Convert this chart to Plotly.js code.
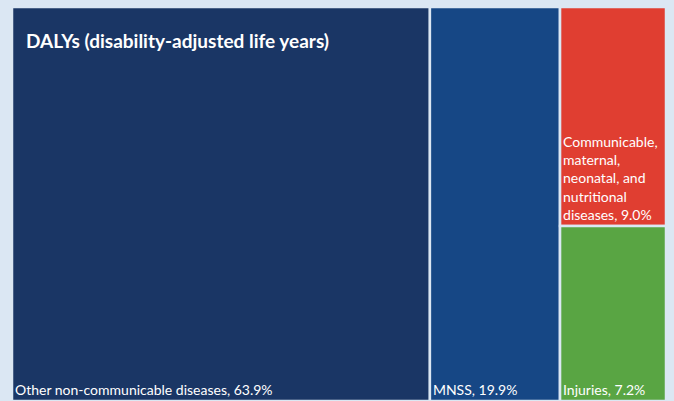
<!DOCTYPE html>
<html>
<head>
<meta charset="utf-8">
<script src="https://cdn.plot.ly/plotly-3.0.1.min.js"></script>
<style>html,body{margin:0;padding:0;background:#dbe7f3;}#chart{width:674px;height:401px;}</style>
</head>
<body>
<div id="chart"></div>
<script>
const ids = ["root", "other", "mnss", "group", "comm", "inj"];
const parents = ["", "root", "root", "root", "group", "group"];
const names = ["All", "Other non-communicable diseases", "MNSS", "Communicable and injuries",
  "Communicable,<br>maternal,<br>neonatal, and<br>nutritional<br>diseases", "Injuries"];
const values = [100, 63.9, 19.9, 16.2, 9.0, 7.2];
const colors = ["#dbe7f3", "#1a3665", "#164785", "#dbe7f3", "#e03e31", "#59a543"];
const texts = ids.map((id, i) => (id === "root" || id === "group") ? "" : names[i] + ", " + values[i].toFixed(1) + "%");

const trace = {
  type: "treemap",
  ids: ids,
  labels: names,
  parents: parents,
  values: values,
  text: texts,
  branchvalues: "total",
  sort: true,
  textinfo: "text",
  textposition: "bottom left",
  textfont: {family: "Lato, 'Open Sans', sans-serif", size: 14, color: "#ffffff"},
  tiling: {packing: "slice-dice", pad: 0},
  pathbar: {visible: false},
  marker: {
    colors: colors,
    line: {color: "#dbe7f3", width: 2.5},
    pad: {t: 0, l: 0, r: 0, b: 0}
  },
  hoverinfo: "skip"
};

const layout = {
  width: 674, height: 401,
  margin: {l: 12, r: 8, t: 7, b: 0},
  paper_bgcolor: "#dbe7f3",
  plot_bgcolor: "#dbe7f3",
  showlegend: false,
  annotations: [{
    text: "<b>DALYs (disability-adjusted life years)</b>",
    xref: "paper", yref: "paper", x: 0.019, y: 0.915,
    xanchor: "left", yanchor: "middle", showarrow: false,
    font: {family: "Lato, 'Open Sans', sans-serif", size: 19, color: "#ffffff"}
  }]
};

Plotly.newPlot("chart", [trace], layout, {displayModeBar: false, staticPlot: true});
</script>
</body>
</html>
